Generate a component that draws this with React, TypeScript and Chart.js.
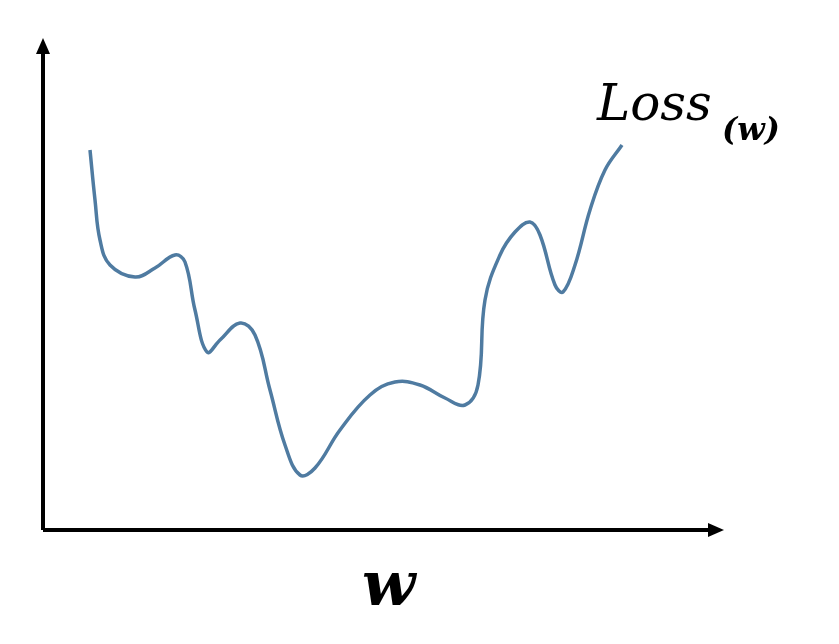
import React, { useEffect, useRef } from "react";
import { Chart, registerables } from "chart.js";
Chart.register(...registerables);

const curveX = [90, 95, 100, 110, 135, 155, 175, 185, 195, 207, 220, 240, 255, 270, 285, 300, 315, 340, 370, 395, 420, 445, 465, 478, 485, 500, 515, 530, 540, 555, 563, 575, 590, 605, 622];
const curveY = [380, 330, 290, 265, 253, 262, 275, 268, 220, 178, 190, 207, 195, 140, 85, 55, 62, 100, 135, 148, 145, 132, 125, 145, 230, 275, 298, 308, 295, 245, 238, 265, 320, 360, 385];

const axesPlugin = {
  id: "axesArrows",
  afterDraw(chart: any) {
    const { ctx, chartArea } = chart;
    const { left, right, top, bottom } = chartArea;
    ctx.save();
    ctx.strokeStyle = "#000";
    ctx.fillStyle = "#000";
    ctx.lineWidth = 4;
    ctx.beginPath();
    ctx.moveTo(left, bottom);
    ctx.lineTo(right - 10, bottom);
    ctx.moveTo(left, bottom);
    ctx.lineTo(left, top + 10);
    ctx.stroke();
    ctx.beginPath();
    ctx.moveTo(right + 2, bottom);
    ctx.lineTo(right - 14, bottom - 7);
    ctx.lineTo(right - 14, bottom + 7);
    ctx.closePath();
    ctx.fill();
    ctx.beginPath();
    ctx.moveTo(left, top - 2);
    ctx.lineTo(left - 7, top + 14);
    ctx.lineTo(left + 7, top + 14);
    ctx.closePath();
    ctx.fill();
    ctx.fillStyle = "#000";
    ctx.textBaseline = "alphabetic";
    ctx.font = "italic 50px 'DejaVu Serif'";
    ctx.fillText("Loss", 597, 120);
    ctx.font = "bold italic 32px 'DejaVu Serif'";
    ctx.fillText("(w)", 722, 140);
    ctx.font = "bold italic 62px 'DejaVu Serif'";
    ctx.fillText("w", 362, 605);
    ctx.restore();
  },
};

export default function App() {
  const ref = useRef<HTMLCanvasElement>(null);
  useEffect(() => {
    const chart = new Chart(ref.current!, {
      type: "line",
      data: {
        datasets: [
          {
            data: curveX.map((x, i) => ({ x, y: curveY[i] })),
            borderColor: "#4f7ba1",
            borderWidth: 3.5,
            pointRadius: 0,
            tension: 0.4,
            fill: false,
          },
        ],
      },
      options: {
        animation: false,
        responsive: false,
        layout: { padding: { left: 43, right: 117, top: 40, bottom: 114 } },
        plugins: { legend: { display: false }, tooltip: { enabled: false } },
        scales: {
          x: { type: "linear", min: 43, max: 722, display: false },
          y: { min: 0, max: 490, display: false },
        },
      },
      plugins: [axesPlugin],
    });
    return () => chart.destroy();
  }, []);
  return (
    <canvas
      ref={ref}
      width={839}
      height={644}
      style={{ position: "fixed", left: 0, top: 0, width: 839, height: 644, background: "#fff" }}
    />
  );
}
